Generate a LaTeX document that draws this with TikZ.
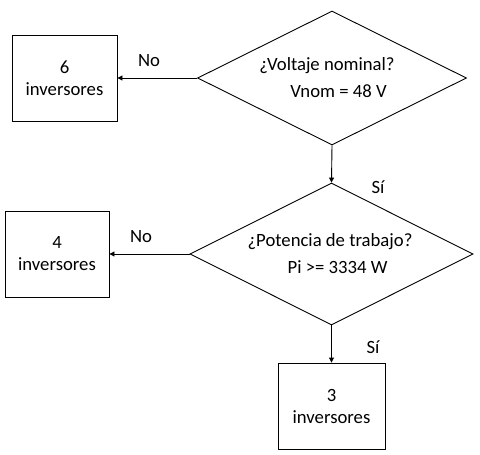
\documentclass[tikz,border=0pt]{standalone}
\usepackage{fontspec}
\setmainfont{Carlito}
\usetikzlibrary{shapes.geometric,arrows.meta,positioning}

\begin{document}
\begin{tikzpicture}[x=1pt,y=-1pt,line width=0.9pt,
  caja/.style={rectangle, draw, minimum width=105pt, minimum height=86pt, align=center, font=\fontsize{18.7}{22}\selectfont},
  decision/.style={diamond, draw, aspect=2, inner sep=0pt, align=center, font=\fontsize{18.7}{27}\selectfont},
  etiqueta/.style={font=\fontsize{18.7}{22}\selectfont},
  flecha/.style={-{Triangle[length=5pt,width=5pt]}}]
\useasboundingbox[fill=white] (0,0) rectangle (480,455);
\node[decision, minimum width=269pt, minimum height=134pt] (voltaje) at (332,78) {\hspace*{-10pt}¿Voltaje nominal?\\ \hspace*{13pt}Vnom = 48 V};
\node[decision, minimum width=283pt, minimum height=142pt] (potencia) at (331.5,254) {\hspace*{-3pt}¿Potencia de trabajo?\\ \hspace*{12pt}Pi >= 3334 W};
\node[caja] (seis) at (64.5,78) {6\\inversores};
\node[caja, minimum width=104pt] (cuatro) at (57,254) {4\\inversores};
\node[caja, minimum width=107pt] (tres) at (331.5,406) {3\\inversores};

\node[etiqueta] (no1) at (149,61) {No};
\node[etiqueta] (si1) at (378,187) {Sí};
\node[etiqueta] (no2) at (141,237) {No};
\node[etiqueta] (si2) at (373,347) {Sí};

\draw[flecha] (voltaje.west) -- (seis.east);
\draw[flecha] (voltaje.south) -- (potencia.north);
\draw[flecha] (potencia.west) -- (cuatro.east);
\draw[flecha] (potencia.south) -- (tres.north);
\end{tikzpicture}
\end{document}
